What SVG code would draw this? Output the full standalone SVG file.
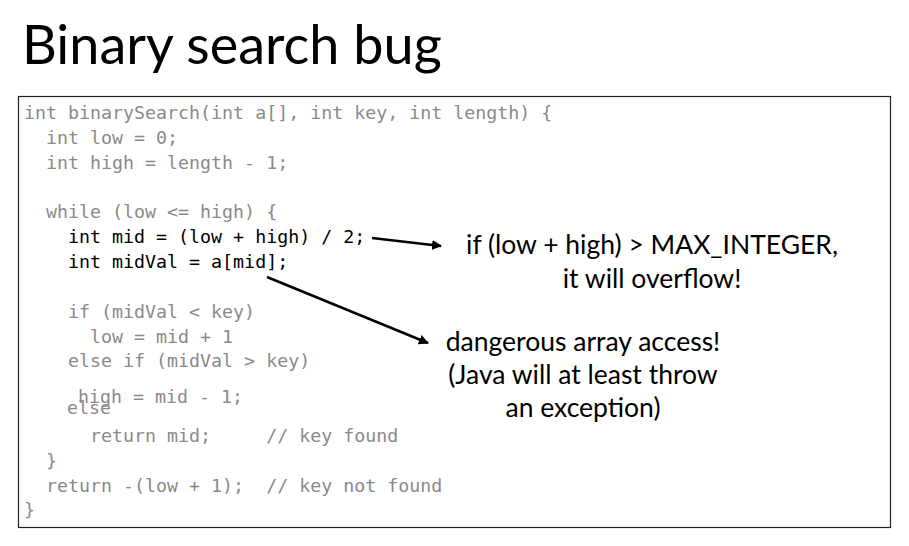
<svg xmlns="http://www.w3.org/2000/svg" width="909" height="546" viewBox="0 0 909 546">
<style>
.c{font-family:"DejaVu Sans Mono",monospace;font-size:18.3px;fill:#8a8a8a}
.b{fill:#000}
.n{font-family:Lato,"Open Sans",sans-serif;font-size:26.5px;fill:#000;text-anchor:middle}
</style>
<defs><marker id="a" markerWidth="10" markerHeight="10" refX="9" refY="5" orient="auto" markerUnits="userSpaceOnUse" viewBox="0 0 10 10"><path d="M0,0L10,5L0,10z" fill="#000"/></marker></defs>
<rect width="909" height="546" fill="#fff"/>
<text x="22" y="64" font-family="Lato,'Open Sans',sans-serif" font-size="54" fill="#000">Binary search bug</text>
<g id="code">
<rect x="18.5" y="96.5" width="872" height="431" fill="#fff" stroke="#222" stroke-width="1.2"/>
<text class="c" x="24" y="119">int binarySearch(int a[], int key, int length) {</text>
<text class="c" x="24" y="144" xml:space="preserve">  int low = 0;</text>
<text class="c" x="24" y="169" xml:space="preserve">  int high = length - 1;</text>
<text class="c" x="24" y="218" xml:space="preserve">  while (low &lt;= high) {</text>
<text class="c b" x="24" y="243" xml:space="preserve">    int mid = (low + high) / 2;</text>
<text class="c b" x="24" y="268" xml:space="preserve">    int midVal = a[mid];</text>
<text class="c" x="24" y="318" xml:space="preserve">    if (midVal &lt; key)</text>
<text class="c" x="24" y="343" xml:space="preserve">      low = mid + 1</text>
<text class="c" x="24" y="367" xml:space="preserve">    else if (midVal &gt; key)</text>
<text class="c" x="78" y="403">high = mid - 1;</text>
<text class="c" x="67" y="414">else</text>
<text class="c" x="24" y="442" xml:space="preserve">      return mid;     // key found</text>
<text class="c" x="24" y="467" xml:space="preserve">  }</text>
<text class="c" x="24" y="492" xml:space="preserve">  return -(low + 1);  // key not found</text>
<text class="c" x="24" y="516">}</text>
</g>
<g id="note1"><text class="n" x="652" y="254">if (low + high) &gt; MAX_INTEGER,</text><text class="n" x="652" y="288">it will overflow!</text></g>
<g id="note2"><text class="n" x="583" y="351">dangerous array access!</text><text class="n" x="583" y="384">(Java will at least throw</text><text class="n" x="583" y="417">an exception)</text></g>
<g id="connectors" stroke="#000" stroke-width="2.5" fill="none">
<line x1="372" y1="238" x2="441" y2="246" marker-end="url(#a)"/>
<line x1="267" y1="277" x2="428" y2="343" marker-end="url(#a)"/>
</g>
</svg>
